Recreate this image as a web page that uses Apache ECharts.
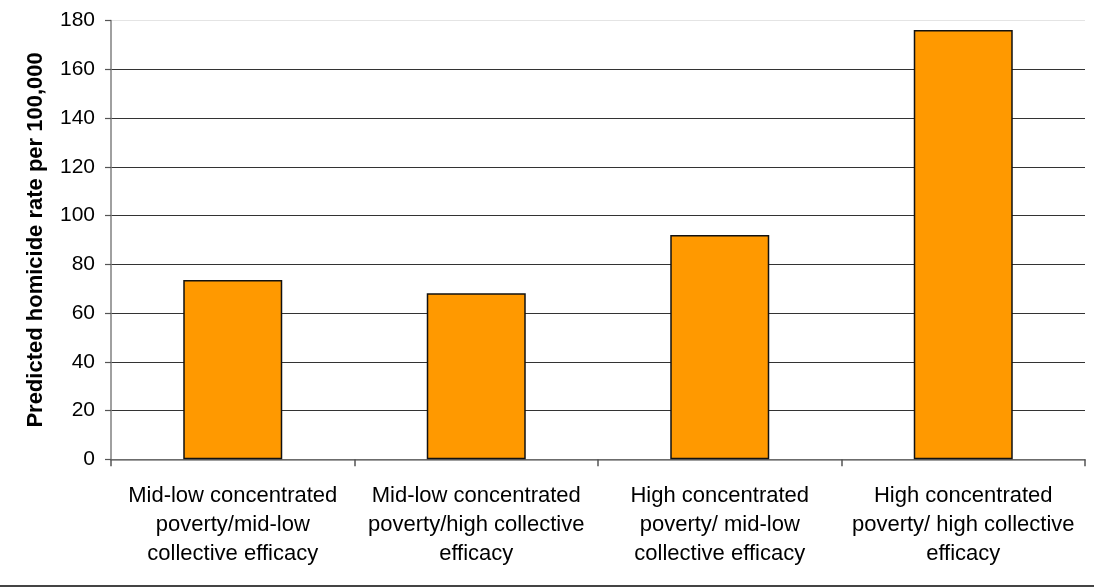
<!DOCTYPE html>
<html>
<head>
<meta charset="utf-8">
<style>
  html, body { margin: 0; padding: 0; background: #fff; }
  #chart { width: 1094px; height: 588px; }
</style>
<script src="https://cdn.jsdelivr.net/npm/echarts@6/dist/echarts.min.js"></script>
</head>
<body>
<div id="chart"></div>
<script>
// Neighbourhood groups (concentrated poverty x collective efficacy)
const categories = [
  'Mid-low concentrated\npoverty/mid-low\ncollective efficacy',
  'Mid-low concentrated\npoverty/high collective\nefficacy',
  'High concentrated\npoverty/ mid-low\ncollective efficacy',
  'High concentrated\npoverty/ high collective\nefficacy'
];
// Predicted homicide rate per 100,000
const homicideRate = [73.6, 68.1, 92.0, 176.1];
const yTicks = { min: 0, max: 180, interval: 20 };
const yTitle = 'Predicted homicide rate per 100,000';

const chart = echarts.init(document.getElementById('chart'), null, { renderer: 'canvas' });
const font = '"Liberation Sans", Arial, sans-serif';

chart.setOption({
  animation: false,
  backgroundColor: '#ffffff',
  grid: { left: 111, right: 9, top: 20.5, bottom: 128.7 },
  xAxis: {
    type: 'category',
    data: categories,
    boundaryGap: true,
    axisLine: { lineStyle: { color: '#808080', width: 1.5 } },
    axisTick: { show: true, length: 7, inside: false, lineStyle: { color: '#555', width: 1.5 } },
    axisLabel: {
      interval: 0,
      margin: 22,
      color: '#000',
      fontFamily: font,
      fontSize: 22,
      lineHeight: 29,
      align: 'center'
    },
    splitLine: { show: false }
  },
  yAxis: {
    type: 'value',
    min: yTicks.min,
    max: yTicks.max,
    interval: yTicks.interval,
    name: yTitle,
    nameLocation: 'middle',
    nameGap: 64,
    nameRotate: 90,
    nameTextStyle: { color: '#000', fontFamily: font, fontSize: 22, fontWeight: 'bold' },
    axisLine: { show: true, lineStyle: { color: '#808080', width: 1.5 } },
    axisTick: { show: true, length: 6, lineStyle: { color: '#555', width: 1.2 } },
    axisLabel: { margin: 16, color: '#000', fontFamily: font, fontSize: 21 },
    splitLine: {
      show: true,
      lineStyle: {
        color: ['#333', '#333', '#333', '#333', '#333', '#333', '#333', '#333', '#333', '#e4e4e4'],
        width: 1.2
      }
    }
  },
  series: [{
    type: 'bar',
    data: homicideRate,
    barWidth: 99,
    itemStyle: { color: '#FF9900', borderColor: '#111', borderWidth: 1.5 },
    silent: true
  }],
  graphic: [{
    type: 'rect',
    left: 0,
    top: 585,
    shape: { width: 1094, height: 2 },
    style: { fill: '#444' },
    silent: true
  }]
});
</script>
</body>
</html>
